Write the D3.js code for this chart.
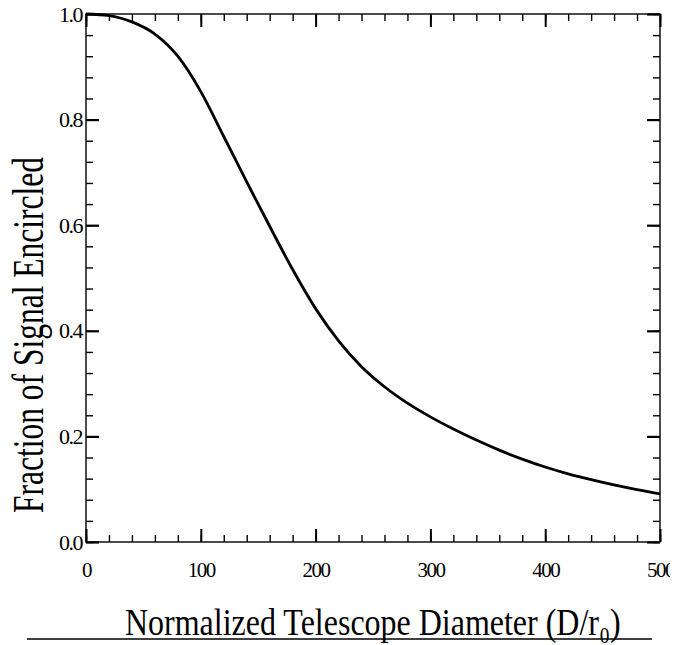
<!DOCTYPE html>
<html>
<head>
<meta charset="utf-8">
<script src="https://cdn.jsdelivr.net/npm/d3@7"></script>
<style>
  body { margin: 0; background: #fff; }
  svg { display: block; }
  text { font-family: "Liberation Serif", "Times New Roman", serif; fill: #000; }
</style>
</head>
<body>
<svg id="chart" width="686" height="645"></svg>
<script>
// Encircled signal fraction vs. normalized telescope diameter
const diameters = [0, 20, 40, 60, 80, 100, 120, 140, 160, 180, 200, 220, 240,
                   260, 280, 300, 320, 340, 360, 380, 400, 420, 440, 460, 480, 500];
const fractions = [1.000, 0.997, 0.985, 0.962, 0.920, 0.853, 0.768, 0.682, 0.598,
                   0.516, 0.442, 0.381, 0.332, 0.294, 0.263, 0.237, 0.214, 0.193,
                   0.174, 0.157, 0.142, 0.129, 0.118, 0.108, 0.099, 0.091];

const xMajorTicks = [0, 100, 200, 300, 400, 500];
const xMinorTicks = d3.range(0, 501, 20);
const yMajorTicks = [0, 0.2, 0.4, 0.6, 0.8, 1.0];
const yMinorTicks = d3.range(0, 26).map(i => i * 0.04);
const yTickLabels = ["0.0", "0.2", "0.4", "0.6", "0.8", "1.0"];

const xTitle = "Normalized Telescope Diameter (D/r\u2080)";
const yTitle = "Fraction of Signal Encircled";

const svg = d3.select("#chart");
const plotLeft = 86, plotRight = 660, plotTop = 14, plotBottom = 542;

const x = d3.scaleLinear().domain([0, 500]).range([plotLeft, plotRight]);
const y = d3.scaleLinear().domain([0, 1]).range([plotBottom, plotTop]);

const MAJOR = 13, MINOR = 7;

function styleAxis(g, width) {
  g.select(".domain").remove();
  g.selectAll(".tick line").attr("stroke", "#000").attr("stroke-width", width);
}

// frame
svg.append("rect")
  .attr("x", plotLeft).attr("y", plotTop)
  .attr("width", plotRight - plotLeft).attr("height", plotBottom - plotTop)
  .attr("fill", "none").attr("stroke", "#000").attr("stroke-width", 1.4);

// minor ticks on all four sides (inward)
svg.append("g").attr("transform", `translate(0,${plotBottom})`)
  .call(d3.axisBottom(x).tickValues(xMinorTicks).tickSize(-MINOR).tickFormat(""))
  .call(g => styleAxis(g, 1.4));
svg.append("g").attr("transform", `translate(0,${plotTop})`)
  .call(d3.axisTop(x).tickValues(xMinorTicks).tickSize(-MINOR).tickFormat(""))
  .call(g => styleAxis(g, 1.4));
svg.append("g").attr("transform", `translate(${plotLeft},0)`)
  .call(d3.axisLeft(y).tickValues(yMinorTicks).tickSize(-MINOR).tickFormat(""))
  .call(g => styleAxis(g, 1.4));
svg.append("g").attr("transform", `translate(${plotRight},0)`)
  .call(d3.axisRight(y).tickValues(yMinorTicks).tickSize(-MINOR).tickFormat(""))
  .call(g => styleAxis(g, 1.4));

// major ticks
svg.append("g").attr("transform", `translate(0,${plotTop})`)
  .call(d3.axisTop(x).tickValues(xMajorTicks).tickSize(-MAJOR).tickFormat(""))
  .call(g => styleAxis(g, 2));
svg.append("g").attr("transform", `translate(${plotRight},0)`)
  .call(d3.axisRight(y).tickValues(yMajorTicks).tickSize(-MAJOR).tickFormat(""))
  .call(g => styleAxis(g, 2.2));

// labelled bottom axis (last label trimmed at the page margin)
svg.append("clipPath").attr("id", "xlabClip")
  .append("rect").attr("x", 0).attr("y", 0).attr("width", 670).attr("height", 645);

svg.append("g").attr("clip-path", "url(#xlabClip)")
  .append("g").attr("transform", `translate(0,${plotBottom})`)
  .call(d3.axisBottom(x).tickValues(xMajorTicks).tickSize(-MAJOR).tickPadding(20)
        .tickFormat(d3.format("d")))
  .call(g => styleAxis(g, 2))
  .call(g => g.selectAll(".tick text")
      .attr("font-family", "Liberation Serif, serif")
      .attr("font-size", 21)
      .attr("letter-spacing", -1.5)
      .attr("dy", "0.71em"));

// labelled left axis
svg.append("g").attr("transform", `translate(${plotLeft},0)`)
  .call(d3.axisLeft(y).tickValues(yMajorTicks).tickSize(-MAJOR).tickPadding(4)
        .tickFormat((d, i) => yTickLabels[i]))
  .call(g => styleAxis(g, 2.2))
  .call(g => g.selectAll(".tick text")
      .attr("font-family", "Liberation Serif, serif")
      .attr("font-size", 22)
      .attr("letter-spacing", -1.5));

// curve
const line = d3.line()
  .x((d, i) => x(diameters[i]))
  .y(d => y(d))
  .curve(d3.curveMonotoneX);

svg.append("path")
  .datum(fractions)
  .attr("d", line)
  .attr("fill", "none")
  .attr("stroke", "#000")
  .attr("stroke-width", 2.8)
  .attr("stroke-linejoin", "round");

// condensed titles: squeeze horizontally to a target length
function condensed(sel, target, baseTransform, anchor) {
  sel.attr("text-anchor", anchor);
  const len = sel.node().getComputedTextLength();
  sel.attr("transform", `${baseTransform} scale(${target / len},1)`);
}

// y title
const yt = svg.append("text").attr("font-size", 44).text(yTitle);
condensed(yt, 356, "translate(43,335) rotate(-90)", "middle");

// x title, underlined
const xt = svg.append("text").attr("font-size", 38).text(xTitle);
condensed(xt, 496, "translate(125,635)", "start");

svg.append("line")
  .attr("x1", 27).attr("x2", 652)
  .attr("y1", 639).attr("y2", 639)
  .attr("stroke", "#000").attr("stroke-width", 1.6);
</script>
</body>
</html>
